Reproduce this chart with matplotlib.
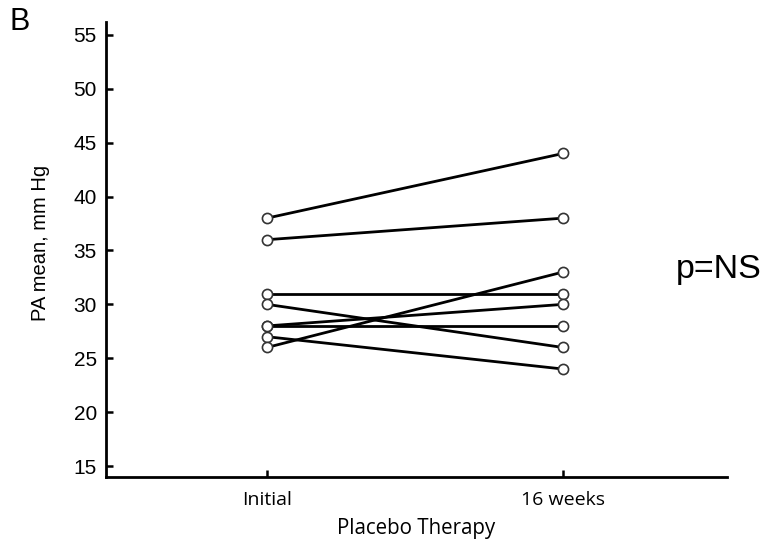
import matplotlib
matplotlib.use("Agg")
import matplotlib.pyplot as plt

# Paired PA mean measurements (mm Hg) for each placebo patient
timepoints = ["Initial", "16 weeks"]
initial = [38, 36, 31, 30, 28, 28, 27, 26]
week16 = [44, 38, 31, 26, 30, 28, 24, 33]
yticks = [15, 20, 25, 30, 35, 40, 45, 50, 55]

fig = plt.figure(figsize=(7.73, 5.43), dpi=100)
ax = fig.add_axes([0.137, 0.1215, 0.8035, 0.838])

xpos = list(range(len(timepoints)))
for a, b in zip(initial, week16):
    ax.plot(xpos, [a, b], color="black", lw=2.0, zorder=2,
            marker="o", markersize=7.3, markerfacecolor="white",
            markeredgecolor="#333333", markeredgewidth=1.2, solid_capstyle="butt")

ax.set_xlim(-0.544, 1.554)
ax.set_ylim(13.98, 56.2)
ax.set_xticks(xpos)
ax.set_xticklabels(timepoints, fontsize=14, family="Open Sans")
ax.set_yticks(yticks)
ax.set_yticklabels([str(v) for v in yticks], fontsize=15, family="Liberation Sans")
ax.tick_params(axis="both", direction="in", length=5, width=1.8, color="black")
ax.tick_params(axis="x", pad=10)
ax.tick_params(axis="y", pad=6.5)

for side in ("top", "right"):
    ax.spines[side].set_visible(False)
for side in ("left", "bottom"):
    ax.spines[side].set_linewidth(2.0)

ax.set_xlabel("Placebo Therapy", fontsize=14.8, family="Open Sans")
ax.xaxis.set_label_coords(0.5, -0.09)
ax.set_ylabel("PA mean, mm Hg", fontsize=14.5, family="Liberation Sans")
ax.yaxis.set_label_coords(-0.09, 0.515)

fig.text(0.012, 0.96, "B", fontsize=22, family="Liberation Sans", va="center")
fig.text(0.874, 0.503, "p=NS", fontsize=24.5, family="Liberation Sans", va="center")

fig.savefig("out.png", dpi=100)
